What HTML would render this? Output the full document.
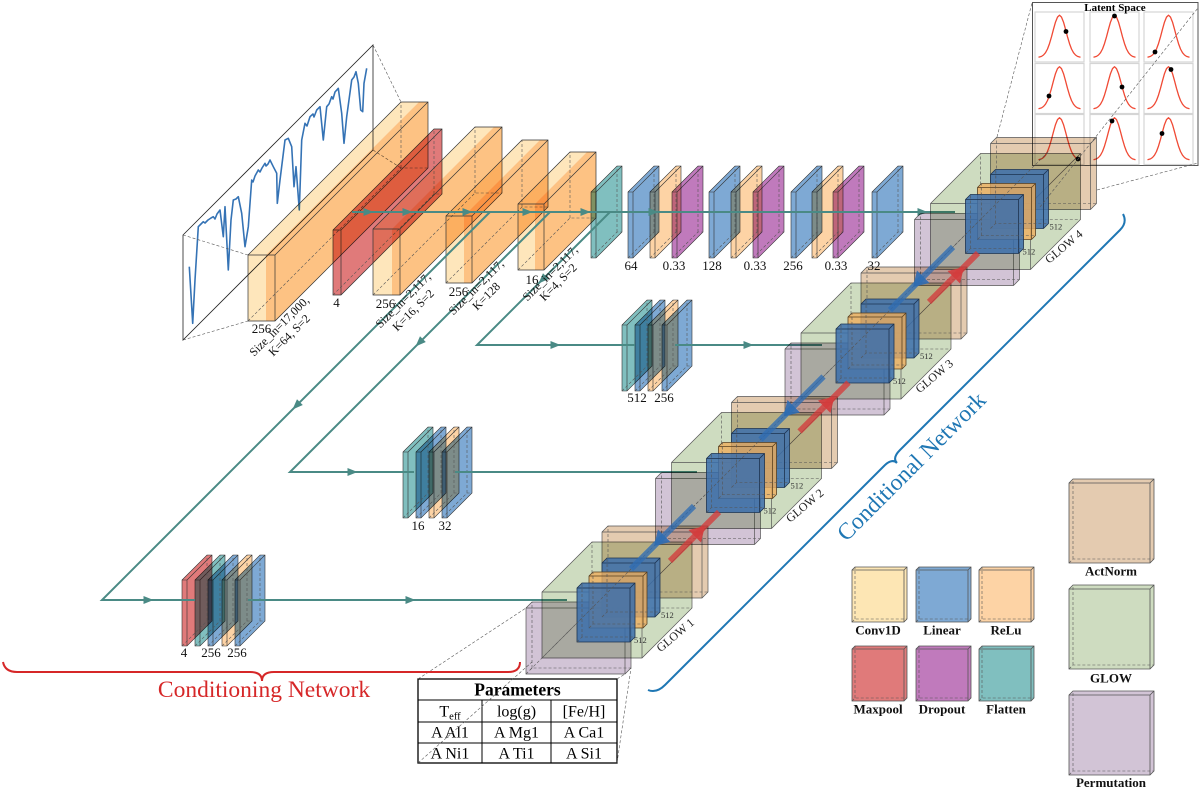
<!DOCTYPE html>
<html><head><meta charset="utf-8">
<style>
html,body{margin:0;padding:0;background:#fff;overflow:hidden;}
svg{display:block;font-family:"Liberation Serif",serif;}
.m{mix-blend-mode:multiply;}
.e{fill:none;stroke:#333;stroke-width:.7}
.d{fill:none;stroke:#555;stroke-width:.6;stroke-dasharray:3,2}
.sl{stroke:#333;stroke-width:.6}
.t{fill:#4a8a85}
</style></head><body>
<svg width="1200" height="790" viewBox="0 0 1200 790" xmlns="http://www.w3.org/2000/svg">
<defs>
<path id="gc" d="M-21,-0.3 L-18,-1.1 -16,-2.5 -14,-4.8 -12,-8.5 -10,-13.9 -8,-20.7 -6,-28.3 -4,-35.4 -2,-40.4 0,-42.3 2,-40.4 4,-35.4 6,-28.3 8,-20.7 10,-13.9 12,-8.5 14,-4.8 16,-2.5 18,-1.1 21,-0.3" fill="none" stroke="#f04a35" stroke-width="1.3" stroke-linejoin="round"/>
</defs>
<rect width="1200" height="790" fill="#fff"/>

<!-- Latent space -->
<rect x="1032.5" y="2.5" width="165.5" height="163" fill="#fff" stroke="#555" stroke-width="1"/>
<g fill="none" stroke="#d5d5d5" stroke-width="1.2">
<rect x="1035" y="12" width="49" height="50"/><rect x="1090" y="12" width="49" height="50"/><rect x="1144" y="12" width="49" height="50"/>
<rect x="1035" y="63.5" width="49" height="50"/><rect x="1090" y="63.5" width="49" height="50"/><rect x="1144" y="63.5" width="49" height="50"/>
<rect x="1035" y="114.5" width="49" height="50"/><rect x="1090" y="114.5" width="49" height="50"/><rect x="1144" y="114.5" width="49" height="50"/>
</g>
<use href="#gc" x="1059.5" y="57.5"/><use href="#gc" x="1114.5" y="57.5"/><use href="#gc" x="1168.5" y="57.5"/>
<use href="#gc" x="1059.5" y="109"/><use href="#gc" x="1114.5" y="109"/><use href="#gc" x="1168.5" y="109"/>
<use href="#gc" x="1059.5" y="160"/><use href="#gc" x="1114.5" y="160"/><use href="#gc" x="1168.5" y="160"/>
<g fill="#000">
<circle cx="1066" cy="31.5" r="2.4"/><circle cx="1114.5" cy="16" r="2.4"/><circle cx="1155" cy="52" r="2.4"/>
<circle cx="1049" cy="96" r="2.4"/><circle cx="1122" cy="87" r="2.4"/><circle cx="1171" cy="69.5" r="2.4"/>
<circle cx="1078" cy="159" r="2.4"/><circle cx="1112" cy="121" r="2.4"/><circle cx="1162" cy="133.5" r="2.4"/>
</g>
<text x="1115" y="11" font-size="11" font-weight="bold" text-anchor="middle">Latent Space</text>

<!-- Spectrum panel -->
<polygon points="183,235 373,45 373,150 183,340" fill="none" stroke="#222" stroke-width=".8"/>
<polyline fill="none" stroke="#3573b5" stroke-width="1.6" stroke-linejoin="round" points="189.3,266.7 192.7,323.3 195,280 198.3,226.7 201,224 203.3,221.7 205,223 208,220 211,218 213.3,216.7 215,219 217,214 220,210 223.3,236.7 225,206.7 228.3,270 231,220 233.3,200 236,199 238.3,196.7 241.7,213.3 245,246.7 248.3,226.7 251.7,180 253,182 255,176 258.3,170 260,172 262,168 265,163.3 266,166 268,164 270,160 273.3,166.7 276.7,173.3 277.3,203.3 280,180 285,140 288.3,138.3 291.7,146.7 294,186.7 296,166.7 299.3,210 301.7,140 305,123.3 307,126 310,116.7 313,114 314,117 316.7,110 320,106.7 323.3,140 326.7,106.7 329,104 331.7,96.7 333,99 335,92 338.3,88.3 341.7,113.3 344,143.3 346.7,116.7 351.7,80 354,77 356,71.7 358.3,83.3 360.7,110 362.7,111.7 364,83.3 366.7,68.3"/>
<path class="d" stroke="#444" d="M183,235 L248,255 M183,340 L248,321 M373,45 L401,102 M373,150 L401,168"/>

<!-- Conv boxes -->
<path class="m" fill="#fdc283" d="M275,255 l153,-153 v66 l-153,153 z"/>
<path class="m" fill="#fee6bb" d="M248,255 l153,-153 h18 l-153,153 z"/>
<path class="m" fill="#fdc283" d="M266,255 l153,-153 h9 l-153,153 z"/>
<path class="m" fill="#fee6bb" d="M248,255 h18 v66 h-18 z"/>
<path class="m" fill="#fdc283" d="M266,255 h9 v66 h-9 z"/>
<path class="e" d="M248,255 l153,-153 h27 v66 l-153,153 h-27 z M248,255 h27 v66 M275,255 l153,-153"/>
<path class="d" d="M248,321 l153,-153 h27 M401,168 v-66"/>

<path class="m" fill="#e07a7a" stroke="#333" stroke-width=".7" d="M333,230 l101,-101 h8 v65 l-101,101 h-8 z M333,230 h8 v65 M341,230 l101,-101"/>
<path class="d" d="M333,295 l101,-101 h8 M434,194 v-65"/>

<path class="m" fill="#fdc283" d="M400,229 l102,-102 v66 l-102,102 z"/>
<path class="m" fill="#fee6bb" d="M373,229 l102,-102 h19 l-102,102 z"/>
<path class="m" fill="#fdc283" d="M392,229 l102,-102 h8 l-102,102 z"/>
<path class="m" fill="#fee6bb" d="M373,229 h19 v66 h-19 z"/>
<path class="m" fill="#fdc283" d="M392,229 h8 v66 h-8 z"/>
<path class="e" d="M373,229 l102,-102 h27 v66 l-102,102 h-27 z M373,229 h27 v66 M400,229 l102,-102"/>
<path class="d" d="M373,295 l102,-102 h27 M475,193 v-66"/>

<path class="m" fill="#fdc283" d="M472,216 l76,-76 v67 l-76,76 z"/>
<path class="m" fill="#fee6bb" d="M446,216 l76,-76 h18 l-76,76 z"/>
<path class="m" fill="#fdc283" d="M464,216 l76,-76 h8 l-76,76 z"/>
<path class="m" fill="#fee6bb" d="M446,216 h18 v67 h-18 z"/>
<path class="m" fill="#fdc283" d="M464,216 h8 v67 h-8 z"/>
<path class="e" d="M446,216 l76,-76 h26 v67 l-76,76 h-26 z M446,216 h26 v67 M472,216 l76,-76"/>
<path class="d" d="M446,283 l76,-76 h26 M522,207 v-67"/>

<path class="m" fill="#fdc283" d="M544,204 l52,-52 v66 l-52,52 z"/>
<path class="m" fill="#fee6bb" d="M518,204 l52,-52 h17 l-52,52 z"/>
<path class="m" fill="#fdc283" d="M535,204 l52,-52 h9 l-52,52 z"/>
<path class="m" fill="#fee6bb" d="M518,204 h17 v66 h-17 z"/>
<path class="m" fill="#fdc283" d="M535,204 h9 v66 h-9 z"/>
<path class="e" d="M518,204 l52,-52 h26 v66 l-52,52 h-26 z M518,204 h26 v66 M544,204 l52,-52"/>
<path class="d" d="M518,270 l52,-52 h26 M570,218 v-66"/>

<!-- Top row slabs -->
<path class="m sl" fill="#80bfbf" d="M591,192 l26,-26 h5 v66 l-26,26 h-5 z M591,192 h5 v66 M596,192 l26,-26"/>
<path class="m sl" fill="#7ea9d4" d="M628,192 l26,-26 h5 v66 l-26,26 h-5 z M628,192 h5 v66 M633,192 l26,-26"/>
<path class="m sl" fill="#fdd3a5" d="M650,192 l26,-26 h5 v66 l-26,26 h-5 z M650,192 h5 v66 M655,192 l26,-26"/>
<path class="m sl" fill="#c07abc" d="M672,192 l26,-26 h5 v66 l-26,26 h-5 z M672,192 h5 v66 M677,192 l26,-26"/>
<path class="m sl" fill="#7ea9d4" d="M709,192 l26,-26 h5 v66 l-26,26 h-5 z M709,192 h5 v66 M714,192 l26,-26"/>
<path class="m sl" fill="#fdd3a5" d="M731,192 l26,-26 h5 v66 l-26,26 h-5 z M731,192 h5 v66 M736,192 l26,-26"/>
<path class="m sl" fill="#c07abc" d="M753,192 l26,-26 h5 v66 l-26,26 h-5 z M753,192 h5 v66 M758,192 l26,-26"/>
<path class="m sl" fill="#7ea9d4" d="M791,192 l26,-26 h5 v66 l-26,26 h-5 z M791,192 h5 v66 M796,192 l26,-26"/>
<path class="m sl" fill="#fdd3a5" d="M812,192 l26,-26 h5 v66 l-26,26 h-5 z M812,192 h5 v66 M817,192 l26,-26"/>
<path class="m sl" fill="#c07abc" d="M833,192 l26,-26 h5 v66 l-26,26 h-5 z M833,192 h5 v66 M838,192 l26,-26"/>
<path class="m sl" fill="#7ea9d4" d="M872,192 l26,-26 h5 v66 l-26,26 h-5 z M872,192 h5 v66 M877,192 l26,-26"/>
<path class="d" d="M591,258 l26,-26 h5 M617,232 v-66 M628,258 l26,-26 h5 M654,232 v-66 M650,258 l26,-26 h5 M676,232 v-66 M672,258 l26,-26 h5 M698,232 v-66 M709,258 l26,-26 h5 M735,232 v-66 M731,258 l26,-26 h5 M757,232 v-66 M753,258 l26,-26 h5 M779,232 v-66 M791,258 l26,-26 h5 M817,232 v-66 M812,258 l26,-26 h5 M838,232 v-66 M833,258 l26,-26 h5 M859,232 v-66 M872,258 l26,-26 h5 M898,232 v-66"/>

<!-- Branch 3 slabs -->
<path class="m sl" fill="#80bfbf" d="M622,325 l25,-25 h5 v66 l-25,25 h-5 z M622,325 h5 v66 M627,325 l25,-25"/>
<path class="m sl" fill="#7ea9d4" d="M635,325 l25,-25 h5 v66 l-25,25 h-5 z M635,325 h5 v66 M640,325 l25,-25"/>
<path class="m sl" fill="#fdd3a5" d="M648,325 l25,-25 h5 v66 l-25,25 h-5 z M648,325 h5 v66 M653,325 l25,-25"/>
<path class="m sl" fill="#7ea9d4" d="M662,325 l25,-25 h5 v66 l-25,25 h-5 z M662,325 h5 v66 M667,325 l25,-25"/>
<path class="d" d="M622,391 l25,-25 h5 M647,366 v-66 M635,391 l25,-25 h5 M660,366 v-66 M648,391 l25,-25 h5 M673,366 v-66 M662,391 l25,-25 h5 M687,366 v-66"/>

<!-- Branch 2 slabs -->
<path class="m sl" fill="#80bfbf" d="M403,452 l25,-25 h5 v66 l-25,25 h-5 z M403,452 h5 v66 M408,452 l25,-25"/>
<path class="m sl" fill="#7ea9d4" d="M416,452 l25,-25 h5 v66 l-25,25 h-5 z M416,452 h5 v66 M421,452 l25,-25"/>
<path class="m sl" fill="#fdd3a5" d="M429,452 l25,-25 h5 v66 l-25,25 h-5 z M429,452 h5 v66 M434,452 l25,-25"/>
<path class="m sl" fill="#7ea9d4" d="M442,452 l25,-25 h5 v66 l-25,25 h-5 z M442,452 h5 v66 M447,452 l25,-25"/>
<path class="d" d="M403,518 l25,-25 h5 M428,493 v-66 M416,518 l25,-25 h5 M441,493 v-66 M429,518 l25,-25 h5 M454,493 v-66 M442,518 l25,-25 h5 M467,493 v-66"/>

<!-- Branch 1 slabs -->
<path class="m sl" fill="#e07a7a" d="M182,580 l25,-25 h5 v66 l-25,25 h-5 z M182,580 h5 v66 M187,580 l25,-25"/>
<path class="m sl" fill="#80bfbf" d="M195,580 l25,-25 h5 v66 l-25,25 h-5 z M195,580 h5 v66 M200,580 l25,-25"/>
<path class="m sl" fill="#7ea9d4" d="M208,580 l25,-25 h5 v66 l-25,25 h-5 z M208,580 h5 v66 M213,580 l25,-25"/>
<path class="m sl" fill="#fdd3a5" d="M222,580 l25,-25 h5 v66 l-25,25 h-5 z M222,580 h5 v66 M227,580 l25,-25"/>
<path class="m sl" fill="#7ea9d4" d="M235,580 l25,-25 h5 v66 l-25,25 h-5 z M235,580 h5 v66 M240,580 l25,-25"/>
<path class="d" d="M182,646 l25,-25 h5 M207,621 v-66 M195,646 l25,-25 h5 M220,621 v-66 M208,646 l25,-25 h5 M233,621 v-66 M222,646 l25,-25 h5 M247,621 v-66 M235,646 l25,-25 h5 M260,621 v-66"/>

<!-- Teal connection lines -->
<path fill="none" stroke="#4a8a85" stroke-width="2" d="M352,212 H955 M490,212 L102,600 H195 M248,600 H567 M550,212 L290,472 H414 M455,472 H697 M610,212 L477,345 H635 M675,345 H822"/>
<g class="t">
<polygon points="363.5,208 373.5,212 363.5,216"/>
<polygon points="402.5,208 412.5,212 402.5,216"/>
<polygon points="462.5,208 472.5,212 462.5,216"/>
<polygon points="522.5,208 532.5,212 522.5,216"/>
<polygon points="580.5,208 590.5,212 580.5,216"/>
<polygon points="648.5,208 658.5,212 648.5,216"/>
<polygon points="917.5,208 927.5,212 917.5,216"/>
<polygon points="143.5,596 153.5,600 143.5,604"/>
<polygon points="405.5,596 415.5,600 405.5,604"/>
<polygon points="347.5,468 357.5,472 347.5,476"/>
<polygon points="550.5,341 560.5,345 550.5,349"/>
<polygon points="743.5,341 753.5,345 743.5,349"/>
<polygon points="292.5,409.5 302.8,405 297,399.2"/>
<polygon points="415.5,346.5 425.8,342 420,336.2"/>
<polygon points="538.5,283.5 548.8,279 543,273.2"/>
</g>

<!-- GLOW stages -->
<g transform="translate(388.5,-388.5)">
<path class="m" fill="#e4cbb0" stroke="#555" stroke-width=".7" d="M602,532 l6,-6 h100 v66 l-6,6 h-100 z M602,532 h100 v66 M702,532 l6,-6"/>
<path class="m" fill="#cedcc0" stroke="#555" stroke-width=".7" d="M542,592 l50,-50 h100 v66 l-50,50 h-100 z M542,592 h100 v66 M642,592 l50,-50"/>
<path class="m" fill="#d2c4d6" stroke="#555" stroke-width=".7" d="M526,608 l6,-6 h99 v66 l-6,6 h-99 z M526,608 h99 v66 M625,608 l6,-6"/>
<path class="d" d="M602,598 l6,-6 h100 M608,592 v-66 M542,658 l50,-50 h100 M592,608 v-66 M526,674 l6,-6 h99 M532,668 v-66"/>
<path fill="#3b6fab" fill-opacity=".85" stroke="#1d3350" stroke-width=".8" d="M602,563 l5,-5 h53 v54 l-5,5 h-53 z M602,563 h53 v54 M655,563 l5,-5"/>
<path fill="#efae5c" fill-opacity=".8" stroke="#5a4020" stroke-width=".8" d="M589,576 l4,-4 h54 v52 l-4,4 h-54 z M589,576 h54 v52 M643,576 l4,-4"/>
<path fill="#3b6fab" fill-opacity=".85" stroke="#1d3350" stroke-width=".8" d="M577,588 l5,-5 h53 v54 l-5,5 h-53 z M577,588 h53 v54 M630,588 l5,-5"/>
<path class="d" d="M602,617 l5,-5 h53 M607,612 v-54 M589,628 l4,-4 h54 M593,624 v-52 M577,642 l5,-5 h53 M582,637 v-54"/>
</g>
<g transform="translate(259,-259)">
<path class="m" fill="#e4cbb0" stroke="#555" stroke-width=".7" d="M602,532 l6,-6 h100 v66 l-6,6 h-100 z M602,532 h100 v66 M702,532 l6,-6"/>
<path class="m" fill="#cedcc0" stroke="#555" stroke-width=".7" d="M542,592 l50,-50 h100 v66 l-50,50 h-100 z M542,592 h100 v66 M642,592 l50,-50"/>
<path class="m" fill="#d2c4d6" stroke="#555" stroke-width=".7" d="M526,608 l6,-6 h99 v66 l-6,6 h-99 z M526,608 h99 v66 M625,608 l6,-6"/>
<path class="d" d="M602,598 l6,-6 h100 M608,592 v-66 M542,658 l50,-50 h100 M592,608 v-66 M526,674 l6,-6 h99 M532,668 v-66"/>
<path fill="#3b6fab" fill-opacity=".85" stroke="#1d3350" stroke-width=".8" d="M602,563 l5,-5 h53 v54 l-5,5 h-53 z M602,563 h53 v54 M655,563 l5,-5"/>
<path fill="#efae5c" fill-opacity=".8" stroke="#5a4020" stroke-width=".8" d="M589,576 l4,-4 h54 v52 l-4,4 h-54 z M589,576 h54 v52 M643,576 l4,-4"/>
<path fill="#3b6fab" fill-opacity=".85" stroke="#1d3350" stroke-width=".8" d="M577,588 l5,-5 h53 v54 l-5,5 h-53 z M577,588 h53 v54 M630,588 l5,-5"/>
<path class="d" d="M602,617 l5,-5 h53 M607,612 v-54 M589,628 l4,-4 h54 M593,624 v-52 M577,642 l5,-5 h53 M582,637 v-54"/>
</g>
<g transform="translate(129.5,-129.5)">
<path class="m" fill="#e4cbb0" stroke="#555" stroke-width=".7" d="M602,532 l6,-6 h100 v66 l-6,6 h-100 z M602,532 h100 v66 M702,532 l6,-6"/>
<path class="m" fill="#cedcc0" stroke="#555" stroke-width=".7" d="M542,592 l50,-50 h100 v66 l-50,50 h-100 z M542,592 h100 v66 M642,592 l50,-50"/>
<path class="m" fill="#d2c4d6" stroke="#555" stroke-width=".7" d="M526,608 l6,-6 h99 v66 l-6,6 h-99 z M526,608 h99 v66 M625,608 l6,-6"/>
<path class="d" d="M602,598 l6,-6 h100 M608,592 v-66 M542,658 l50,-50 h100 M592,608 v-66 M526,674 l6,-6 h99 M532,668 v-66"/>
<path fill="#3b6fab" fill-opacity=".85" stroke="#1d3350" stroke-width=".8" d="M602,563 l5,-5 h53 v54 l-5,5 h-53 z M602,563 h53 v54 M655,563 l5,-5"/>
<path fill="#efae5c" fill-opacity=".8" stroke="#5a4020" stroke-width=".8" d="M589,576 l4,-4 h54 v52 l-4,4 h-54 z M589,576 h54 v52 M643,576 l4,-4"/>
<path fill="#3b6fab" fill-opacity=".85" stroke="#1d3350" stroke-width=".8" d="M577,588 l5,-5 h53 v54 l-5,5 h-53 z M577,588 h53 v54 M630,588 l5,-5"/>
<path class="d" d="M602,617 l5,-5 h53 M607,612 v-54 M589,628 l4,-4 h54 M593,624 v-52 M577,642 l5,-5 h53 M582,637 v-54"/>
</g>
<g>
<path class="m" fill="#e4cbb0" stroke="#555" stroke-width=".7" d="M602,532 l6,-6 h100 v66 l-6,6 h-100 z M602,532 h100 v66 M702,532 l6,-6"/>
<path class="m" fill="#cedcc0" stroke="#555" stroke-width=".7" d="M542,592 l50,-50 h100 v66 l-50,50 h-100 z M542,592 h100 v66 M642,592 l50,-50"/>
<path class="m" fill="#d2c4d6" stroke="#555" stroke-width=".7" d="M526,608 l6,-6 h99 v66 l-6,6 h-99 z M526,608 h99 v66 M625,608 l6,-6"/>
<path class="d" d="M602,598 l6,-6 h100 M608,592 v-66 M542,658 l50,-50 h100 M592,608 v-66 M526,674 l6,-6 h99 M532,668 v-66"/>
<path fill="#3b6fab" fill-opacity=".85" stroke="#1d3350" stroke-width=".8" d="M602,563 l5,-5 h53 v54 l-5,5 h-53 z M602,563 h53 v54 M655,563 l5,-5"/>
<path fill="#efae5c" fill-opacity=".8" stroke="#5a4020" stroke-width=".8" d="M589,576 l4,-4 h54 v52 l-4,4 h-54 z M589,576 h54 v52 M643,576 l4,-4"/>
<path fill="#3b6fab" fill-opacity=".85" stroke="#1d3350" stroke-width=".8" d="M577,588 l5,-5 h53 v54 l-5,5 h-53 z M577,588 h53 v54 M630,588 l5,-5"/>
<path class="d" d="M602,617 l5,-5 h53 M607,612 v-54 M589,628 l4,-4 h54 M593,624 v-52 M577,642 l5,-5 h53 M582,637 v-54"/>
</g>

<!-- diagonal hidden axis -->
<path class="d" stroke="#444" d="M530,670 L1050,150"/>

<!-- blue / red arrows between stages -->
<g stroke-width="6" fill="none" stroke-opacity=".78">
<path stroke="#2f6db3" d="M694,506 L631,569 M823.5,376.5 L760.5,439.5 M953,247 L890,310"/>
<path stroke="#d43c3c" d="M719,512 L670,561 M848.5,382.5 L799.5,431.5 M978,253 L929,302"/>
</g>
<g fill="#2f6db3" fill-opacity=".9">
<polygon points="654,546 670.5,542 658,529.5"/>
<polygon points="783.5,416.5 800,412.5 787.5,400"/>
<polygon points="913,287 929.5,283 917,270.5"/>
</g>
<g fill="#d43c3c" fill-opacity=".9">
<polygon points="705,526 701,542.5 688.5,530"/>
<polygon points="834.5,396.5 830.5,413 818,400.5"/>
<polygon points="964,267 960,283.5 947.5,271"/>
</g>

<!-- GLOW labels & 512 -->
<g font-size="8.5" fill="#333">
<text x="634" y="643">512</text><text x="661" y="618">512</text>
<text x="763.5" y="513.5">512</text><text x="790.5" y="488.5">512</text>
<text x="893" y="384">512</text><text x="920" y="359">512</text>
<text x="1022.5" y="254.5">512</text><text x="1049.5" y="229.5">512</text>
</g>
<g font-size="12" fill="#222" text-anchor="middle" dominant-baseline="middle">
<text x="676" y="636" transform="rotate(-40 676 636)">GLOW 1</text>
<text x="805.5" y="506.5" transform="rotate(-40 805.5 506.5)">GLOW 2</text>
<text x="935" y="377" transform="rotate(-40 935 377)">GLOW 3</text>
<text x="1064.5" y="247.5" transform="rotate(-40 1064.5 247.5)">GLOW 4</text>
</g>

<!-- latent projection dashes -->
<path class="d" stroke="#444" d="M997,137 L1032,3 M1097,190 L1198,163 M1040,207 L1198,8"/>

<!-- Parameters table -->
<rect x="418" y="679" width="199" height="84" fill="#fff" stroke="#000" stroke-width="1.3"/>
<path d="M418,700 H617 M418,722 H617 M418,743 H617 M482,700 V763 M551,700 V763" stroke="#000" stroke-width="1"/>
<text x="517.5" y="695.5" font-size="17.5" font-weight="bold" text-anchor="middle">Parameters</text>
<g font-size="16" text-anchor="middle">
<text x="450" y="716.5">T<tspan font-size="10.5" dy="3">eff</tspan></text>
<text x="516.5" y="716.5">log(g)</text>
<text x="584" y="716.5">[Fe/H]</text>
<text x="450" y="737.5">A Al1</text>
<text x="516.5" y="737.5">A Mg1</text>
<text x="584" y="737.5">A Ca1</text>
<text x="450" y="758.5">A Ni1</text>
<text x="516.5" y="758.5">A Ti1</text>
<text x="584" y="758.5">A Si1</text>
</g>
<path class="d" stroke="#444" d="M418,679 L526,608 M418,763 L532,662 M617,679 L625,674 M617,763 L631,668"/>

<!-- Legend -->
<g stroke="#555" stroke-width=".8">
<path fill="#fde6b4" d="M852,570 l3,-3 h52 v52 l-3,3 h-52 z M852,570 h52 v52 M904,570 l3,-3"/>
<path fill="#7ea9d4" d="M916,570 l3,-3 h52 v52 l-3,3 h-52 z M916,570 h52 v52 M968,570 l3,-3"/>
<path fill="#fdd3a5" d="M979,570 l3,-3 h52 v52 l-3,3 h-52 z M979,570 h52 v52 M1031,570 l3,-3"/>
<path fill="#e07a7a" d="M852,649 l3,-3 h52 v52 l-3,3 h-52 z M852,649 h52 v52 M904,649 l3,-3"/>
<path fill="#c07abc" d="M916,649 l3,-3 h52 v52 l-3,3 h-52 z M916,649 h52 v52 M968,649 l3,-3"/>
<path fill="#80bfbf" d="M979,649 l3,-3 h52 v52 l-3,3 h-52 z M979,649 h52 v52 M1031,649 l3,-3"/>
<path fill="#e4cbb0" d="M1069,483 l4,-4 h81 v80 l-4,4 h-81 z M1069,483 h81 v80 M1150,483 l4,-4"/>
<path fill="#cedcc0" d="M1069,589 l4,-4 h81 v80 l-4,4 h-81 z M1069,589 h81 v80 M1150,589 l4,-4"/>
<path fill="#d2c4d6" d="M1069,695 l4,-4 h81 v80 l-4,4 h-81 z M1069,695 h81 v80 M1150,695 l4,-4"/>
</g>
<path class="d" d="M852,622 l3,-3 h52 M855,619 v-52 M916,622 l3,-3 h52 M919,619 v-52 M979,622 l3,-3 h52 M982,619 v-52 M852,701 l3,-3 h52 M855,698 v-52 M916,701 l3,-3 h52 M919,698 v-52 M979,701 l3,-3 h52 M982,698 v-52 M1069,563 l4,-4 h81 M1073,559 v-80 M1069,669 l4,-4 h81 M1073,665 v-80 M1069,775 l4,-4 h81 M1073,771 v-80"/>
<g font-size="13" font-weight="bold" text-anchor="middle" fill="#111">
<text x="878" y="634.5">Conv1D</text>
<text x="942" y="634.5">Linear</text>
<text x="1006" y="634.5">ReLu</text>
<text x="878" y="713.5">Maxpool</text>
<text x="942" y="713.5">Dropout</text>
<text x="1006" y="713.5">Flatten</text>
<text x="1111" y="575.5">ActNorm</text>
<text x="1111" y="682.5">GLOW</text>
<text x="1111" y="787">Permutation</text>
</g>

<!-- Braces -->
<path fill="none" stroke="#d62728" stroke-width="2" d="M3,662 Q5,672 17,672 L250,672 Q262,672 262,681 Q262,672 274,672 L508,672 Q520,672 520,662"/>
<text x="264" y="697" font-size="23.5" fill="#d62728" text-anchor="middle">Conditioning Network</text>
<path fill="none" stroke="#1f77b4" stroke-width="2" d="M1123,214 Q1127.5,222.5 1120,230 L900,450 Q892,458 897,463 Q892,458 884,466 L665,685 Q656.5,693.5 648,690"/>
<text x="913" y="468" font-size="23.5" fill="#1f77b4" text-anchor="middle" dominant-baseline="middle" transform="rotate(-45 913 468)">Conditional Network</text>

<!-- Labels: conv / slabs -->
<g font-size="13" text-anchor="middle" fill="#111">
<text x="261.5" y="333">256</text>
<text x="336.5" y="307">4</text>
<text x="385.5" y="308">256</text>
<text x="458.5" y="296">256</text>
<text x="532" y="284">16</text>
<text x="631" y="270">64</text>
<text x="674" y="270">0.33</text>
<text x="712" y="270">128</text>
<text x="755" y="270">0.33</text>
<text x="793" y="270">256</text>
<text x="836" y="270">0.33</text>
<text x="874" y="270">32</text>
<text x="637" y="402">512</text>
<text x="664" y="402">256</text>
<text x="418" y="530">16</text>
<text x="445" y="530">32</text>
<text x="184" y="657">4</text>
<text x="211" y="657">256</text>
<text x="237" y="657">256</text>
</g>
<g font-size="12" text-anchor="middle" fill="#111">
<text x="282" y="329" transform="rotate(-45 282 329)">Size_in=17,000,</text>
<text x="292" y="338" transform="rotate(-45 292 338)">K=64, S=2</text>
<text x="406" y="303" transform="rotate(-45 406 303)">Size_in=2,117,</text>
<text x="416" y="313" transform="rotate(-45 416 313)">K=16, S=2</text>
<text x="479" y="290" transform="rotate(-45 479 290)">Size_in=2,117,</text>
<text x="489" y="299" transform="rotate(-45 489 299)">K=128</text>
<text x="553" y="276" transform="rotate(-45 553 276)">Size_in=2,117,</text>
<text x="561" y="285" transform="rotate(-45 561 285)">K=4, S=2</text>
</g>
</svg>
</body></html>
